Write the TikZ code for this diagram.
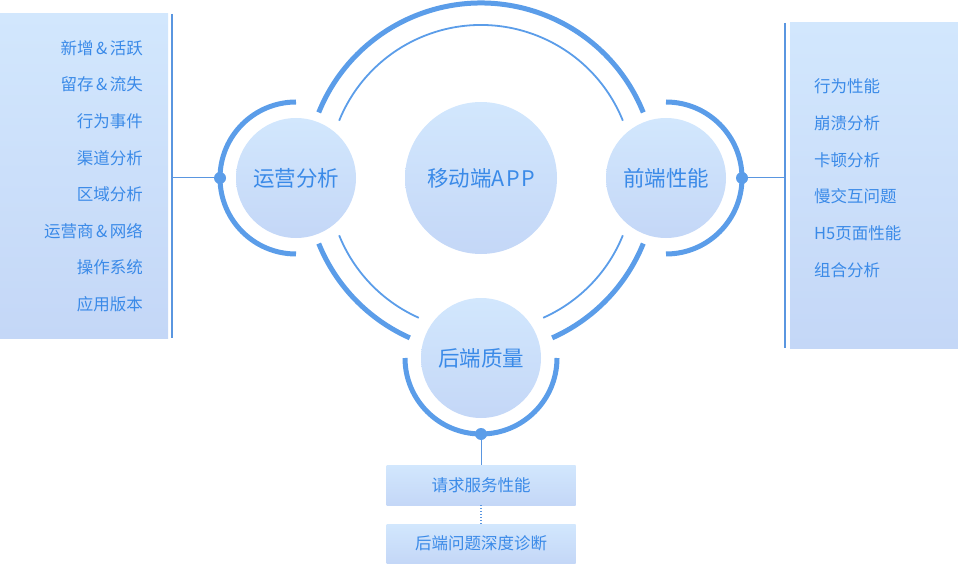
\documentclass[tikz,border=0pt]{standalone}
\usepackage{fontspec}
\newfontfamily\cjk{Noto Sans CJK SC}
\usepackage{tikz}
\usetikzlibrary{positioning,%
                backgrounds%
              }
\definecolor{panetop}{HTML}{D2E7FD}
\definecolor{panebot}{HTML}{C4D7F7}
\definecolor{ringblue}{HTML}{5B9DE9}
\definecolor{textblue}{HTML}{3A8AE8}
\definecolor{lineblue}{HTML}{5A96E0}

\def\amp{\kern2.5pt\&\kern2.5pt}
\def\leftitems{1/新增\amp 活跃, 2/留存\amp 流失, 3/行为事件, 4/渠道分析,%
  5/区域分析, 6/运营商\amp 网络, 7/操作系统, 8/应用版本}
\def\rightitems{1/行为性能, 2/崩溃分析, 3/卡顿分析, 4/慢交互问题,%
  5/H5页面性能, 6/组合分析}
\def\ringarcs{22/158, 202/246, 294/338}
\def\satellites{%  \sname/\sx/\sy/\sstart/\stext
  {yy/296/178/90/运营分析},%
  {qd/666/178/-90/前端性能},%
  {hd/481/358/180/后端质量}%
}

\begin{document}
\begin{tikzpicture}[x=1pt,y=1pt,%
    every node/.style={font=\cjk, text=textblue},%
    pane/.style={rectangle, top color=panetop, bottom color=panebot, draw=none},%
    bubble/.style={circle, top color=panetop, bottom color=panebot, draw=none,%
      font=\cjk\fontsize{21.5}{24}\selectfont},%
    item/.style={inner sep=0pt, font=\cjk\fontsize{16.5}{18}\selectfont},%
    dot/.style={circle, fill=ringblue, inner sep=0pt, minimum size=12pt},%
    outerring/.style={draw=ringblue, line width=5pt},%
    innerring/.style={draw=ringblue, line width=1.8pt},%
    conn/.style={draw=lineblue, line width=1pt}]

  \useasboundingbox (0,0) rectangle (958,-564);

  % side panels
  \node[pane, anchor=north west, minimum width=168pt, minimum height=325pt,%
    inner sep=0pt] (lpane) at (0,-13) {};
  \node[pane, anchor=north west, minimum width=168pt, minimum height=326pt,%
    inner sep=0pt] (rpane) at (790,-22.5) {};
  \coordinate (lbartop) at (172,-14);
  \coordinate (lbarbot) at (172,-338);
  \coordinate (rbartop) at (785,-23);
  \coordinate (rbarbot) at (785,-348);
  \draw[conn, line width=1.2pt] (lbartop) -- (lbarbot);
  \draw[conn, line width=1.2pt] (rbartop) -- (rbarbot);

  \foreach \i/\t in \leftitems {%
    \node[item, anchor=east] (l\i) at (143,{-48-36.6*(\i-1)}) {\t};
  }
  \foreach \i/\t in \rightitems {%
    \node[item, anchor=west] (r\i) at (814,{-86.7-36.65*(\i-1)}) {\t};
  }

  % centre and big ring
  \node[bubble, minimum size=152pt] (app) at (481,-178) {移动端A\kern1.5pt P\kern1.5pt P};
  \foreach \a/\b in \ringarcs {%
    \draw[outerring] (app.center) ++(\a:175pt) arc[start angle=\a, end angle=\b, radius=175pt];
    \draw[innerring] (app.center) ++(\a:153pt) arc[start angle=\a, end angle=\b, radius=153pt];
  }

  % satellites
  \foreach \sname/\sx/\sy/\sstart/\stext in \satellites {%
    \node[bubble, minimum size=120pt] (\sname) at (\sx,-\sy) {\stext};
    \draw[outerring] (\sname.center) ++(\sstart:76pt)%
      arc[start angle=\sstart, delta angle=180, radius=76pt];
    \path (\sname.center) ++(\sstart+90:76pt) node[dot] (\sname-dot) {};
  }

  \draw[conn] (yy-dot) -- (yy-dot.center -| lbartop);
  \draw[conn] (qd-dot) -- (qd-dot.center -| rbartop);

  % backend boxes
  \node[pane, item, minimum width=189pt, minimum height=40pt] (rq) at (481,-485) {请求服务性能};
  \node[pane, item, minimum width=189pt, minimum height=39pt] (zd) at (481,-543.5) {后端问题深度诊断};
  \draw[conn] (hd-dot) -- (rq);
  \draw[conn, dotted, line width=1.2pt] (rq) -- (zd);

\end{tikzpicture}
\end{document}
